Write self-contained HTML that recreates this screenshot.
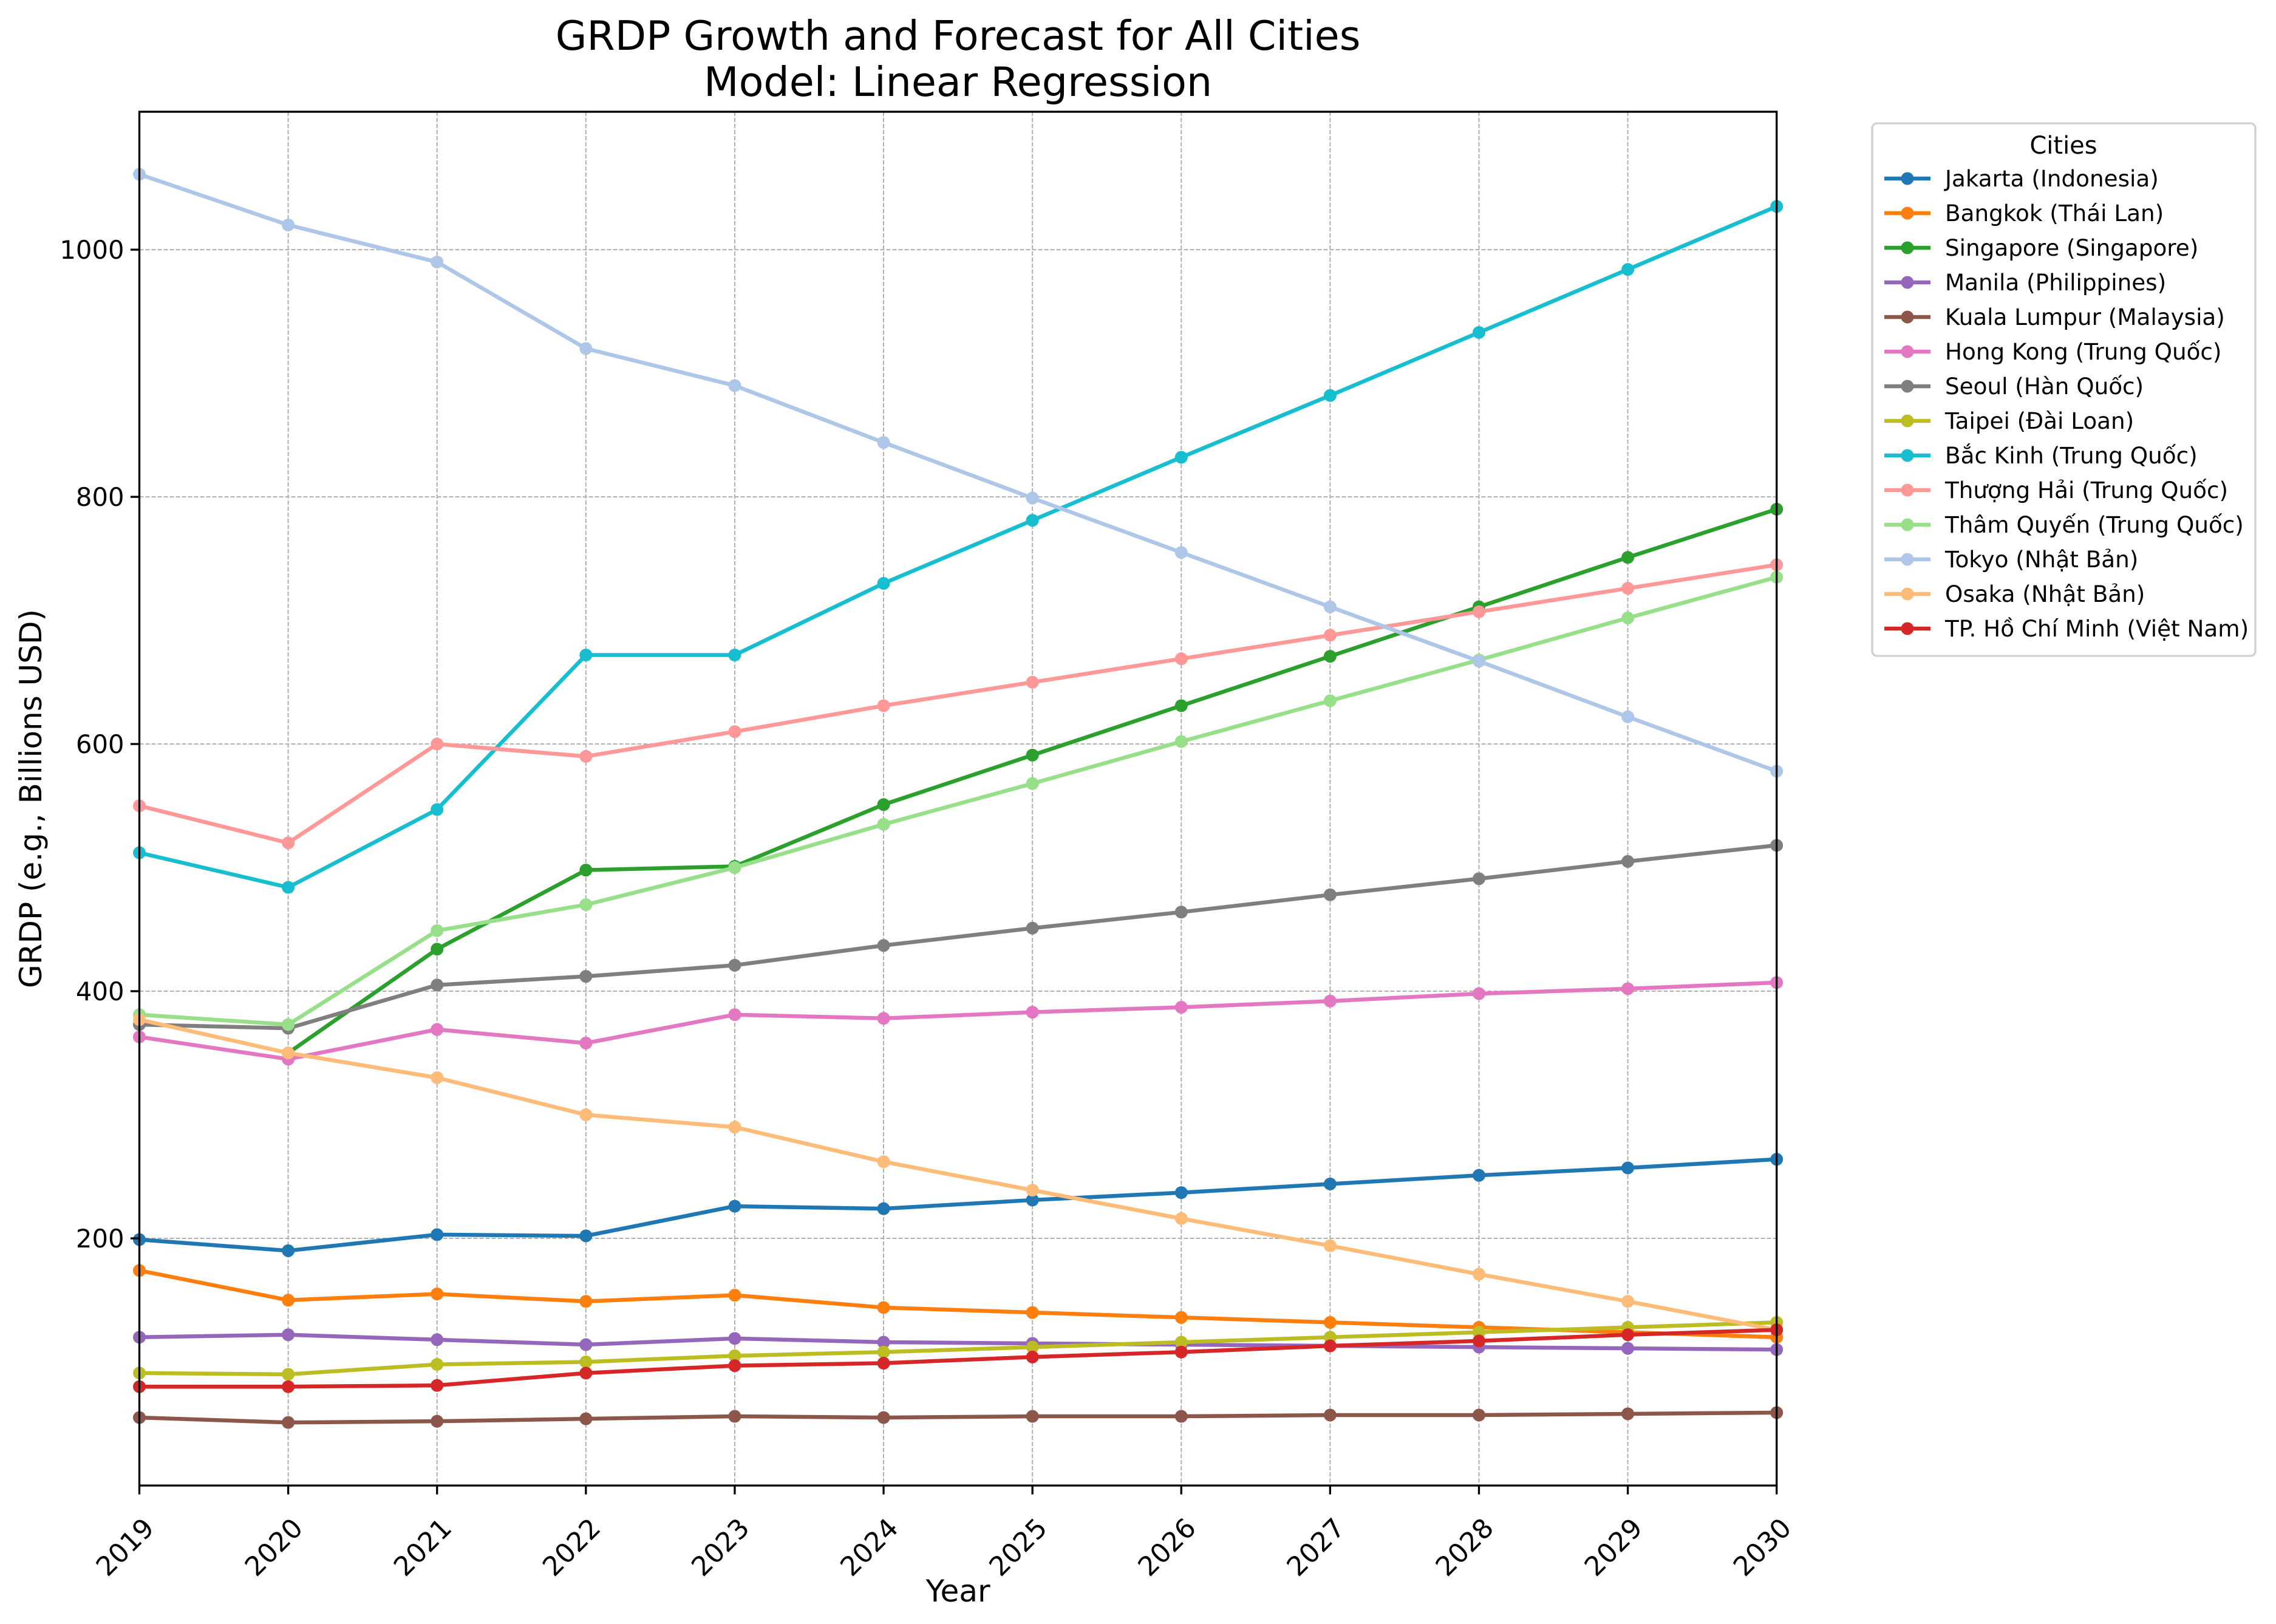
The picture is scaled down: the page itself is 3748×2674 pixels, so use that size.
<!DOCTYPE html>
<html><head><meta charset="utf-8"><style>
html,body{margin:0;padding:0;background:#fff;}
svg{display:block;font-family:"DejaVu Sans","Liberation Sans",sans-serif;}
</style></head><body>
<svg id="chart" width="3748" height="2674" viewBox="0 0 3748 2674" xmlns="http://www.w3.org/2000/svg">
<rect width="3748" height="2674" fill="#fff"/>
<g id="grid"></g><g id="series"></g><g id="axes"></g><g id="legend"></g>
</svg>
<script>
const years = [2019,2020,2021,2022,2023,2024,2025,2026,2027,2028,2029,2030];
const yTicks = [200,400,600,800,1000];
const cityNames = ["Jakarta (Indonesia)","Bangkok (Thái Lan)","Singapore (Singapore)","Manila (Philippines)","Kuala Lumpur (Malaysia)","Hong Kong (Trung Quốc)","Seoul (Hàn Quốc)","Taipei (Đài Loan)","Bắc Kinh (Trung Quốc)","Thượng Hải (Trung Quốc)","Thâm Quyến (Trung Quốc)","Tokyo (Nhật Bản)","Osaka (Nhật Bản)","TP. Hồ Chí Minh (Việt Nam)"];
const colors = ["#1f77b4","#ff7f0e","#2ca02c","#9467bd","#8c564b","#e377c2","#7f7f7f","#bcbd22","#17becf","#ff9896","#98df8a","#aec7e8","#ffbb78","#d62728"];
const jakarta = [199,190,203,202,226,224,231,237,244,251,257,264];
const bangkok = [174,150,155,149,154,144,140,136,132,128,124,120];
const singapore = [null,350,434,498,501,551,591,631,671,711,751,790];
const manila = [120,122,118,114,119,116,115,114,113,112,111,110];
const kualaLumpur = [55,51,52,54,56,55,56,56,57,57,58,59];
const hongKong = [363,345,369,358,381,378,383,387,392,398,402,407];
const seoul = [373,370,405,412,421,437,451,464,478,491,505,518];
const taipei = [91,90,98,100,105,108,112,116,120,124,128,132];
const beijing = [512,484,547,672,672,730,781,832,882,933,984,1035];
const shanghai = [550,520,600,590,610,631,650,669,688,707,726,745];
const shenzhen = [381,373,449,470,500,535,568,602,635,668,702,735];
const tokyo = [1061,1020,990,920,890,844,799,755,711,667,622,578];
const osaka = [377,350,330,300,290,262,239,216,194,171,149,126];
const hcm = [80,80,81,91,97,99,104,108,113,117,122,126];
const seriesValues = [jakarta,bangkok,singapore,manila,kualaLumpur,hongKong,seoul,taipei,beijing,shanghai,shenzhen,tokyo,osaka,hcm];

const L=229.5,R=2925.7,T=184,B=2446,YMIN=0,YMAX=1111.6;
const NS="http://www.w3.org/2000/svg";
const xs=i=>L+(years[i]-years[0])/(years[years.length-1]-years[0])*(R-L);
const ys=v=>B-(v-YMIN)/(YMAX-YMIN)*(B-T);
function mk(tag,attrs,parent,text){const e=document.createElementNS(NS,tag);for(const k in attrs)e.setAttribute(k,attrs[k]);if(text!==undefined)e.textContent=text;parent.appendChild(e);return e;}
const grid=document.getElementById('grid'),ser=document.getElementById('series'),ax=document.getElementById('axes'),leg=document.getElementById('legend');

years.forEach((y,i)=>{const g=mk('line',{x1:xs(i),x2:xs(i),y1:T,y2:B,stroke:'#b0b0b0','stroke-width':2,'stroke-dasharray':'7,3'},grid);

});
yTicks.forEach(v=>{const g=mk('line',{x1:L,x2:R,y1:ys(v),y2:ys(v),stroke:'#b0b0b0','stroke-width':2,'stroke-dasharray':'7,3'},grid);

});

seriesValues.forEach((vals,s)=>{
 const g=mk('g',{},ser);
 
 
 let pts=[];vals.forEach((v,i)=>{if(v!==null)pts.push(xs(i)+','+ys(v));});
 const pl=mk('polyline',{points:pts.join(' '),fill:'none',stroke:colors[s],'stroke-width':6.5,'stroke-linejoin':'round'},g);
 
 
 vals.forEach((v,i)=>{if(v===null)return;const c=mk('circle',{cx:xs(i),cy:ys(v),r:10.5,fill:colors[s]},g);
 
 });
});

const frame=mk('rect',{x:L,y:T,width:R-L,height:B-T,fill:'none',stroke:'#000','stroke-width':3.3},ax);


years.forEach((y,i)=>{
 mk('line',{x1:xs(i),x2:xs(i),y1:B,y2:B+14.6,stroke:'#000','stroke-width':3.3},ax);
 const t=mk('text',{x:xs(i)+4,y:B+50,'font-size':44,'text-anchor':'end',transform:`rotate(-45 ${xs(i)+4} ${B+50})`,'dominant-baseline':'hanging'},ax,String(y));
 
 
});
yTicks.forEach(v=>{
 mk('line',{x1:L-14.6,x2:L,y1:ys(v),y2:ys(v),stroke:'#000','stroke-width':3.3},ax);
 const t=mk('text',{x:L-25,y:ys(v)+15,'font-size':41.7,'text-anchor':'end'},ax,String(v));
 
 
});
let t;
t=mk('text',{x:(L+R)/2,y:2637,'font-size':50,'text-anchor':'middle'},ax,'Year');


t=mk('text',{x:68,y:(T+B)/2,'font-size':50,'text-anchor':'middle',transform:`rotate(-90 68 ${(T+B)/2})`},ax,'GRDP (e.g., Billions USD)');


t=mk('text',{x:(L+R)/2,y:82,'font-size':66.7,'text-anchor':'middle'},ax,'GRDP Growth and Forecast for All Cities');


t=mk('text',{x:(L+R)/2,y:158,'font-size':66.7,'text-anchor':'middle'},ax,'Model: Linear Regression');



const box=mk('rect',{x:3083,y:203,width:631,height:877,rx:8,fill:'#fff',stroke:'#d0d0d0','stroke-width':3.3},leg);


t=mk('text',{x:3398,y:253,'font-size':40,'text-anchor':'middle'},leg,'Cities');


cityNames.forEach((n,s)=>{
 const yy=294+s*57;
 const g=mk('g',{},leg);
 
 
 mk('line',{x1:3103,x2:3179,y1:yy,y2:yy,stroke:colors[s],'stroke-width':6.5},g);
 mk('circle',{cx:3141,cy:yy,r:10.5,fill:colors[s]},g);
 mk('text',{x:3203,y:yy+13,'font-size':37.3},g,n);
});
</script>
</body></html>
